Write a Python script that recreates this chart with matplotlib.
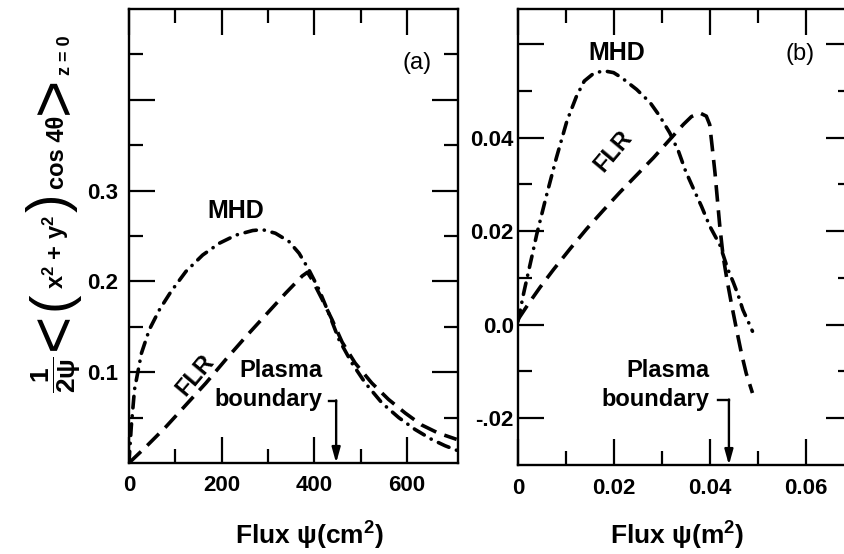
import matplotlib
matplotlib.use("Agg")
import matplotlib.pyplot as plt
from matplotlib.ticker import FixedLocator, FixedFormatter

plt.rcParams['font.family'] = ['Liberation Sans', 'DejaVu Sans']
plt.rcParams['mathtext.fontset'] = 'custom'
plt.rcParams['mathtext.rm'] = 'Liberation Sans:bold'
plt.rcParams['mathtext.it'] = 'Liberation Sans:bold'
plt.rcParams['mathtext.bf'] = 'Liberation Sans:bold'
plt.rcParams['mathtext.fallback'] = 'cm'

# ---------------- data: panel (a) ----------------
mhd_a_x = [0, 5, 12, 27, 44, 66, 91, 123, 159, 195, 231, 267, 288, 316, 345, 367,
           388, 410, 431, 453, 481, 510, 546, 582, 617, 653, 682, 707]
mhd_a_y = [0.0, 0.040, 0.081, 0.121, 0.147, 0.169, 0.189, 0.211, 0.229, 0.242, 0.251,
           0.256, 0.257, 0.253, 0.244, 0.231, 0.213, 0.191, 0.165, 0.136, 0.110, 0.088,
           0.066, 0.050, 0.037, 0.026, 0.019, 0.014]
flr_a_x = [0, 37, 80, 123, 166, 209, 252, 295, 338, 374, 385, 395, 417, 438, 460, 488,
           524, 560, 596, 631, 667, 707]
flr_a_y = [0.0, 0.018, 0.040, 0.064, 0.088, 0.114, 0.139, 0.163, 0.187, 0.206, 0.210,
           0.202, 0.180, 0.158, 0.133, 0.110, 0.088, 0.070, 0.055, 0.042, 0.033, 0.026]
boundary_a = 447
xticks_a = [0, 200, 400, 600]
xticklabels_a = ['0', '200', '400', '600']
xminor_a = [100, 300, 500]
yticks_a = [0.1, 0.2, 0.3, 0.4]
yticklabels_a = ['0.1', '0.2', '0.3', '']
yminor_a = [0.05, 0.15, 0.25, 0.35, 0.45]

# ---------------- data: panel (b) ----------------
mhd_b_x = [0.0, 0.0012, 0.0020, 0.0029, 0.0039, 0.0059, 0.0080, 0.0102, 0.0122, 0.0138,
           0.0157, 0.0178, 0.0199, 0.0216, 0.0247, 0.0275, 0.0295, 0.0316, 0.0334,
           0.0349, 0.0366, 0.0382, 0.0399, 0.0420, 0.0437, 0.0448, 0.0458, 0.0468,
           0.0479, 0.0488]
mhd_b_y = [0.0007, 0.0068, 0.0105, 0.0146, 0.0193, 0.0275, 0.0357, 0.0436, 0.0489,
           0.0521, 0.0537, 0.0543, 0.0539, 0.0528, 0.0503, 0.0475, 0.0446, 0.0410,
           0.0371, 0.0328, 0.0289, 0.0253, 0.0211, 0.0171, 0.0118, 0.0091, 0.0064,
           0.0032, 0.0007, -0.0014]
flr_b_x = [0.0, 0.0022, 0.0046, 0.0074, 0.0109, 0.0143, 0.0178, 0.0212, 0.0247, 0.0282,
           0.0316, 0.0344, 0.0361, 0.0378, 0.0392, 0.0399, 0.0404, 0.0410, 0.0415,
           0.0420, 0.0427, 0.0435, 0.0444, 0.0455, 0.0465, 0.0475, 0.0488]
flr_b_y = [0.0011, 0.0045, 0.0080, 0.0118, 0.0163, 0.0205, 0.0245, 0.0283, 0.0320,
           0.0357, 0.0396, 0.0428, 0.0445, 0.0453, 0.0446, 0.0428, 0.0382, 0.0325,
           0.0268, 0.0211, 0.0146, 0.0096, 0.0046, -0.0011, -0.0061, -0.0104, -0.0146]
boundary_b = 0.0439
xticks_b = [0, 0.02, 0.04, 0.06]
xticklabels_b = ['0', '0.02', '0.04', '0.06']
xminor_b = [0.01, 0.03, 0.05]
yticks_b = [-0.02, 0.0, 0.02, 0.04, 0.06]
yticklabels_b = ['-.02', '0.0', '0.02', '0.04', '']
yminor_b = [-0.01, 0.01, 0.03, 0.05]

fig = plt.figure(figsize=(8.44, 5.54), dpi=100)
axa = fig.add_axes([0.1528, 0.1643, 0.3899, 0.8195])
axb = fig.add_axes([0.6137, 0.1606, 0.3957, 0.8231])

LW = 2.6
mhd_style = dict(color='black', lw=LW, dashes=(3.2, 2.2, 0.05, 2.2),
                 dash_capstyle='round', solid_capstyle='round')
flr_style = dict(color='black', lw=LW, dashes=(4.6, 2.4), dash_capstyle='butt')

TICK_FS = 16
txt_font = dict(fontsize=17, fontweight='bold')


def style_axes(ax, xt, xtl, xmin, yt, ytl, ymin, xpad, ypad):
    for s in ax.spines.values():
        s.set_linewidth(1.7)
    ax.xaxis.set_major_locator(FixedLocator(xt))
    ax.xaxis.set_major_formatter(FixedFormatter(xtl))
    ax.xaxis.set_minor_locator(FixedLocator(xmin))
    ax.yaxis.set_major_locator(FixedLocator(yt))
    ax.yaxis.set_major_formatter(FixedFormatter(ytl))
    ax.yaxis.set_minor_locator(FixedLocator(ymin))
    ax.tick_params(which='both', direction='in', top=True, right=True, width=1.6)
    ax.tick_params(which='major', length=19)
    ax.tick_params(which='minor', length=10)
    ax.tick_params(axis='x', which='major', pad=xpad)
    ax.tick_params(axis='y', which='major', pad=ypad)
    for lab in ax.get_xticklabels() + ax.get_yticklabels():
        lab.set_fontsize(TICK_FS)
        lab.set_fontweight('bold')


# ---------------- panel (a) ----------------
axa.plot(mhd_a_x, mhd_a_y, **mhd_style)
axa.plot(flr_a_x, flr_a_y, **flr_style)
axa.set_xlim(0, 710)
axa.set_ylim(0, 0.5)
style_axes(axa, xticks_a, xticklabels_a, xminor_a, yticks_a, yticklabels_a, yminor_a, 9, 8)
axa.text(231, 0.277, 'MHD', ha='center', va='center', fontsize=18, fontweight='bold')
axa.text(143, 0.097, 'FLR', ha='center', va='center', rotation=50, **txt_font)
axa.text(621, 0.44, '(a)', ha='center', va='center', fontsize=17)
axa.text(417, 0.086, 'Plasma\nboundary', ha='right', va='center',
         multialignment='right', linespacing=1.3, **txt_font)
axa.plot([boundary_a - 16, boundary_a], [0.068, 0.068], color='black', lw=1.7)
axa.annotate('', xy=(boundary_a, 0.0), xytext=(boundary_a, 0.069),
             arrowprops=dict(arrowstyle='-|>,head_length=0.9,head_width=0.25',
                             color='black', lw=1.7, shrinkA=0, shrinkB=0))

# ---------------- panel (b) ----------------
axb.plot(mhd_b_x, mhd_b_y, **mhd_style)
axb.plot(flr_b_x, flr_b_y, **flr_style)
axb.set_xlim(0, 0.0695)
axb.set_ylim(-0.03, 0.0675)
style_axes(axb, xticks_b, xticklabels_b, xminor_b, yticks_b, yticklabels_b, yminor_b, 9, 3)
axb.text(0.0206, 0.0582, 'MHD', ha='center', va='center', fontsize=18, fontweight='bold')
axb.text(0.0199, 0.0371, 'FLR', ha='center', va='center', rotation=50, **txt_font)
axb.text(0.0588, 0.0578, '(b)', ha='center', va='center', fontsize=17)
axb.text(0.0399, -0.0129, 'Plasma\nboundary', ha='right', va='center',
         multialignment='right', linespacing=1.3, **txt_font)
axb.plot([boundary_b - 0.0022, boundary_b], [-0.0161, -0.0161], color='black', lw=1.7)
axb.annotate('', xy=(boundary_b, -0.03), xytext=(boundary_b, -0.016),
             arrowprops=dict(arrowstyle='-|>,head_length=0.9,head_width=0.25',
                             color='black', lw=1.7, shrinkA=0, shrinkB=0))

# ---------------- axis labels ----------------
axa.set_xlabel(r'Flux $\psi$(cm$^2$)', fontsize=19, fontweight='bold')
axb.set_xlabel(r'Flux $\psi$(m$^2$)', fontsize=19, fontweight='bold')
axa.xaxis.set_label_coords(0.55, -0.125)
axb.xaxis.set_label_coords(0.476, -0.12)

# y label built from pieces (rotated), stacked bottom -> top
W, H = 844.0, 554.0
renderer = fig.canvas.get_renderer()
ylabel_pieces = [
    # text, fontsize, weight, baseline x (px), gap after (px)
    (r'$\dfrac{1}{2\psi}$', 19, 'bold', 62, 6),
    ('<', 46, 'normal', 74, 3),
    ('(', 40, 'normal', 66, 3),
    (r'x$^2$ + y$^2$', 17, 'bold', 64, 3),
    (')', 40, 'normal', 66, 4),
    ('cos 4θ', 17, 'bold', 64, 2),
    ('>', 46, 'normal', 74, 2),
    ('z = 0', 13, 'bold', 70, 0),
]
objs = []
y = 0.0
for txt, fs, wt, bx, gap in ylabel_pieces:
    t = fig.text(bx / W, 0, txt, fontsize=fs, fontweight=wt, rotation=90,
                 rotation_mode='anchor', ha='left', va='baseline')
    ext = t.get_window_extent(renderer)
    objs.append((t, bx, y))
    y += ext.height + gap
total = y
center_px = H - 214
start = center_px - total / 2
for t, bx, yy in objs:
    t.set_position((bx / W, (start + yy) / H))

fig.savefig('out.png', dpi=100)
